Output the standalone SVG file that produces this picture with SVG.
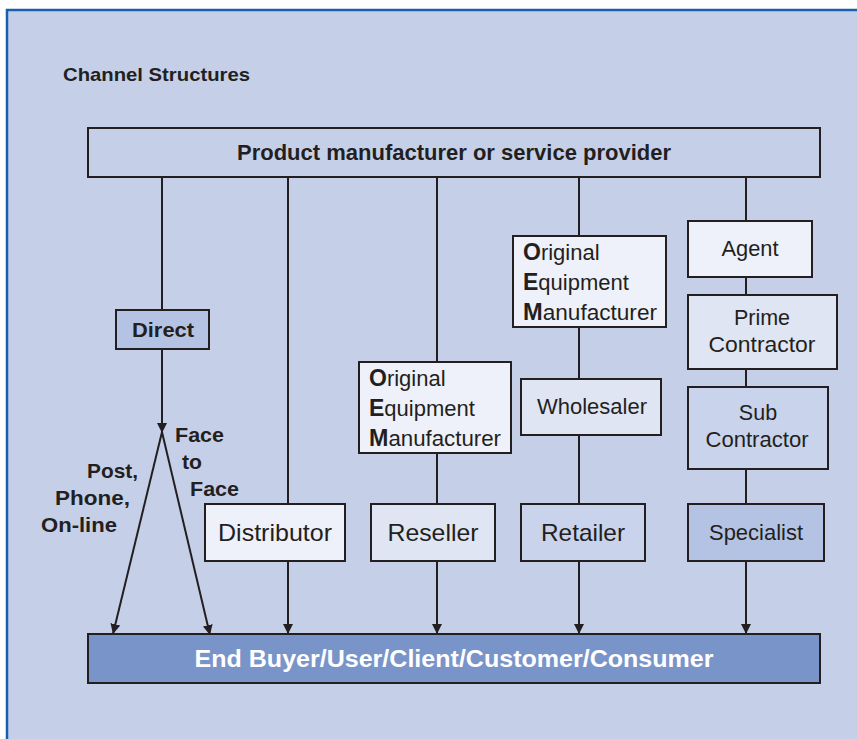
<svg xmlns="http://www.w3.org/2000/svg" width="857" height="739" viewBox="0 0 857 739">
<defs>
<marker id="ah" viewBox="0 0 10 10" refX="10" refY="5" markerWidth="5" markerHeight="5" orient="auto" markerUnits="strokeWidth">
<path d="M0,0 L10,5 L0,10 z" fill="#231f20"/>
</marker>
<style>
.box{stroke:#231f20;stroke-width:2}
.c{stroke:#231f20;stroke-width:2;fill:none}
.t{font-family:"Liberation Sans",Arial,sans-serif;fill:#231f20}
.b{font-weight:bold}
.n{font-size:22px}
.m{text-anchor:middle}
.w1{fill:#eef1f9}
.w2{fill:#dfe5f2}
.w3{fill:#c9d3eb}
.w4{fill:#b4c3e3}
</style>
</defs>
<rect x="0" y="0" width="857" height="739" fill="#ffffff"/>
<rect x="7" y="10" width="860" height="740" fill="#c5d0e8" stroke="#1a5fae" stroke-width="2.5"/>
<text class="t b" x="63" y="81" font-size="19" textLength="187" lengthAdjust="spacingAndGlyphs">Channel Structures</text>

<g id="connectors">
<line class="c" x1="162" y1="177" x2="162" y2="310"/>
<line class="c" x1="162" y1="349" x2="162" y2="433" marker-end="url(#ah)"/>
<line class="c" x1="162" y1="432" x2="113" y2="634" marker-end="url(#ah)"/>
<line class="c" x1="162" y1="432" x2="210" y2="635" marker-end="url(#ah)"/>
<line class="c" x1="288" y1="177" x2="288" y2="504"/>
<line class="c" x1="288" y1="561" x2="288" y2="634" marker-end="url(#ah)"/>
<line class="c" x1="437" y1="177" x2="437" y2="362"/>
<line class="c" x1="437" y1="453" x2="437" y2="504"/>
<line class="c" x1="437" y1="561" x2="437" y2="634" marker-end="url(#ah)"/>
<line class="c" x1="579" y1="177" x2="579" y2="236"/>
<line class="c" x1="579" y1="327" x2="579" y2="379"/>
<line class="c" x1="579" y1="435" x2="579" y2="504"/>
<line class="c" x1="579" y1="561" x2="579" y2="634" marker-end="url(#ah)"/>
<line class="c" x1="746" y1="177" x2="746" y2="221"/>
<line class="c" x1="746" y1="277" x2="746" y2="295"/>
<line class="c" x1="746" y1="369" x2="746" y2="387"/>
<line class="c" x1="746" y1="469" x2="746" y2="504"/>
<line class="c" x1="746" y1="561" x2="746" y2="634" marker-end="url(#ah)"/>
</g>

<g id="labels-direct">
<text class="t b" font-size="21" x="175" y="442" textLength="49" lengthAdjust="spacingAndGlyphs">Face</text>
<text class="t b" font-size="21" x="182" y="469" textLength="20" lengthAdjust="spacingAndGlyphs">to</text>
<text class="t b" font-size="21" x="190" y="496" textLength="49" lengthAdjust="spacingAndGlyphs">Face</text>
<text class="t b" font-size="21" x="87" y="478" textLength="51" lengthAdjust="spacingAndGlyphs">Post,</text>
<text class="t b" font-size="21" x="55" y="505" textLength="75" lengthAdjust="spacingAndGlyphs">Phone,</text>
<text class="t b" font-size="21" x="41" y="532" textLength="76" lengthAdjust="spacingAndGlyphs">On-line</text>
</g>

<g id="provider">
<rect class="box" x="88" y="128" width="732" height="49" fill="#c5d0e8"/>
<text class="t b m" x="454" y="160" font-size="21.5" textLength="434" lengthAdjust="spacingAndGlyphs">Product manufacturer or service provider</text>
</g>

<g id="direct">
<rect class="box w4" x="116" y="310" width="93" height="39"/>
<text class="t b m" x="163" y="337" font-size="21" textLength="62" lengthAdjust="spacingAndGlyphs">Direct</text>
</g>

<g id="distributor">
<rect class="box w1" x="205" y="504" width="140" height="57"/>
<text class="t m" x="275" y="541" font-size="24" textLength="114" lengthAdjust="spacingAndGlyphs">Distributor</text>
</g>

<g id="oem1">
<rect class="box w1" x="359" y="362" width="152" height="91"/>
<text class="t n" x="369" y="386"><tspan class="b" font-size="23">O</tspan>riginal</text>
<text class="t n" x="369" y="416"><tspan class="b" font-size="23">E</tspan>quipment</text>
<text class="t n" x="369" y="446" textLength="132" lengthAdjust="spacingAndGlyphs"><tspan class="b" font-size="23">M</tspan>anufacturer</text>
</g>

<g id="reseller">
<rect class="box w2" x="371" y="504" width="124" height="57"/>
<text class="t m" x="433" y="541" font-size="24" textLength="91" lengthAdjust="spacingAndGlyphs">Reseller</text>
</g>

<g id="oem2">
<rect class="box w1" x="513" y="236" width="153" height="91"/>
<text class="t n" x="523" y="260"><tspan class="b" font-size="23">O</tspan>riginal</text>
<text class="t n" x="523" y="290"><tspan class="b" font-size="23">E</tspan>quipment</text>
<text class="t n" x="523" y="320" textLength="134" lengthAdjust="spacingAndGlyphs"><tspan class="b" font-size="23">M</tspan>anufacturer</text>
</g>

<g id="wholesaler">
<rect class="box w2" x="521" y="379" width="140" height="56"/>
<text class="t m" x="592" y="414" font-size="21.5" textLength="110" lengthAdjust="spacingAndGlyphs">Wholesaler</text>
</g>

<g id="retailer">
<rect class="box w3" x="521" y="504" width="124" height="57"/>
<text class="t m" x="583" y="541" font-size="24" textLength="84" lengthAdjust="spacingAndGlyphs">Retailer</text>
</g>

<g id="agent">
<rect class="box w1" x="688" y="221" width="124" height="56"/>
<text class="t m" x="750" y="256" font-size="21.5" textLength="57" lengthAdjust="spacingAndGlyphs">Agent</text>
</g>

<g id="prime">
<rect class="box w2" x="688" y="295" width="149" height="74"/>
<text class="t m" x="762" y="325" font-size="21.5">Prime</text>
<text class="t m" x="762" y="352" font-size="21.5" textLength="107" lengthAdjust="spacingAndGlyphs">Contractor</text>
</g>

<g id="sub">
<rect class="box w3" x="688" y="387" width="140" height="82"/>
<text class="t m" x="758" y="420" font-size="21.5">Sub</text>
<text class="t m" x="757" y="447" font-size="21.5" textLength="103" lengthAdjust="spacingAndGlyphs">Contractor</text>
</g>

<g id="specialist">
<rect class="box w4" x="688" y="504" width="136" height="57"/>
<text class="t m" x="756" y="540" font-size="22" textLength="94" lengthAdjust="spacingAndGlyphs">Specialist</text>
</g>

<g id="endbuyer">
<rect class="box" x="88" y="634" width="732" height="49" fill="#7994c9"/>
<text class="t b m" x="454" y="667" font-size="23.5" textLength="519" lengthAdjust="spacingAndGlyphs" style="fill:#ffffff">End Buyer/User/Client/Customer/Consumer</text>
</g>
</svg>
